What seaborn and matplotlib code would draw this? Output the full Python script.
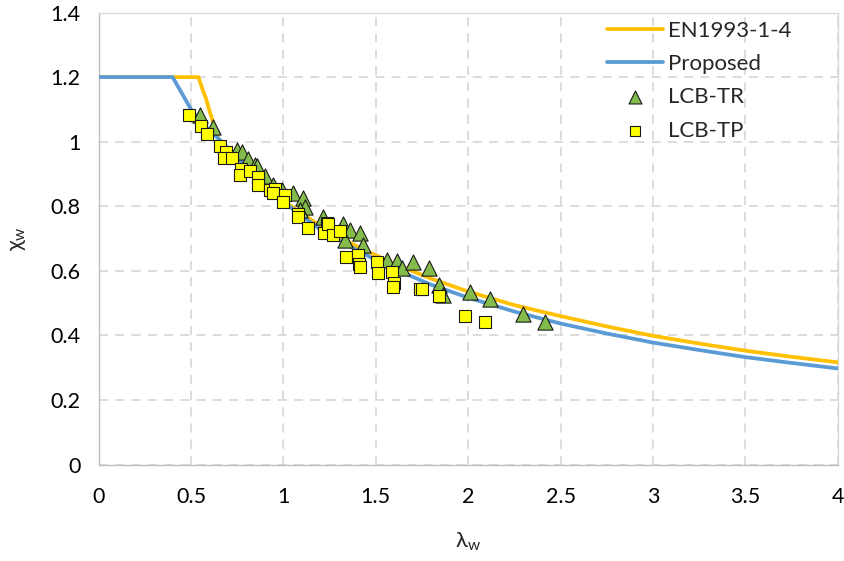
import matplotlib
matplotlib.use("Agg")
import matplotlib.pyplot as plt
import seaborn as sns
import pandas as pd

# EN1993-1-4 curve
en_lam = [0.0, 0.54, 0.56, 0.58, 0.60, 0.625, 0.65, 0.70, 0.80, 0.90, 1.0, 1.2, 1.4, 1.6, 1.8,
          2.0, 2.25, 2.5, 2.75, 3.0, 3.25, 3.5, 3.75, 4.0]
en_chi = [1.2, 1.2, 1.165, 1.135, 1.095, 1.05, 1.005, 0.969, 0.912, 0.862, 0.817, 0.739, 0.675,
          0.622, 0.576, 0.536, 0.494, 0.460, 0.428, 0.399, 0.375, 0.353, 0.334, 0.317]

# Proposed curve
pr_lam = [0.0, 0.40, 0.45, 0.50, 0.55, 0.60, 0.666, 0.80, 1.0, 1.2, 1.4, 1.6, 1.8, 2.0,
          2.25, 2.5, 2.75, 3.0, 3.25, 3.5, 3.75, 4.0]
pr_chi = [1.2, 1.2, 1.15, 1.10, 1.065, 1.035, 1.0, 0.922, 0.813, 0.728, 0.663, 0.606, 0.557,
          0.517, 0.474, 0.437, 0.406, 0.378, 0.355, 0.333, 0.315, 0.298]

# LCB-TR test points
tr_lam = [0.548, 0.620, 0.747, 0.774, 0.810, 0.846, 0.855, 0.900, 0.945, 0.990, 1.053, 1.107,
          1.116, 1.090, 1.215, 1.324, 1.360, 1.414, 1.333, 1.432, 1.558, 1.613, 1.640, 1.699,
          1.789, 1.843, 1.865, 2.009, 2.117, 2.294, 2.417]
tr_chi = [1.083, 1.046, 0.974, 0.969, 0.945, 0.928, 0.925, 0.895, 0.866, 0.850, 0.840, 0.825,
          0.799, 0.790, 0.768, 0.744, 0.727, 0.716, 0.696, 0.680, 0.634, 0.632, 0.610, 0.628,
          0.608, 0.556, 0.525, 0.536, 0.512, 0.467, 0.443]

# LCB-TP test points
tp_lam = [0.489, 0.554, 0.588, 0.656, 0.687, 0.680, 0.723, 0.768, 0.765, 0.819, 0.864, 0.864,
          0.927, 0.954, 0.945, 1.008, 0.999, 1.080, 1.080, 1.134, 1.237, 1.219, 1.242, 1.270,
          1.306, 1.338, 1.405, 1.410, 1.412, 1.504, 1.513, 1.586, 1.598, 1.594, 1.739, 1.748,
          1.843, 1.982, 2.090]
tp_chi = [1.082, 1.049, 1.023, 0.987, 0.969, 0.949, 0.949, 0.915, 0.897, 0.910, 0.892, 0.866,
          0.850, 0.853, 0.840, 0.835, 0.814, 0.775, 0.768, 0.732, 0.747, 0.716, 0.745, 0.711,
          0.724, 0.644, 0.649, 0.621, 0.612, 0.628, 0.593, 0.598, 0.563, 0.549, 0.543, 0.543,
          0.522, 0.460, 0.443]

x_ticks = [0, 0.5, 1, 1.5, 2, 2.5, 3, 3.5, 4]
x_tick_labels = ["0", "0.5", "1", "1.5", "2", "2.5", "3", "3.5", "4"]
y_ticks = [0, 0.2, 0.4, 0.6, 0.8, 1.0, 1.2, 1.4]
y_tick_labels = ["0", "0.2", "0.4", "0.6", "0.8", "1", "1.2", "1.4"]

sns.set_theme(style="white")
plt.rcParams["font.family"] = ["Lato", "DejaVu Sans"]

fig = plt.figure(figsize=(8.45, 5.61), dpi=100)
ax = fig.add_axes([0.1168, 0.1717, 0.8746, 0.806])

grid_c = "#D9D9D9"
ax.set_axisbelow(True)
ax.grid(True, which="major", color=grid_c, linestyle=(0, (5, 4)), linewidth=1.3)

en_df = pd.DataFrame({"lam": en_lam, "chi": en_chi})
pr_df = pd.DataFrame({"lam": pr_lam, "chi": pr_chi})
tr_df = pd.DataFrame({"lam": tr_lam, "chi": tr_chi})
tp_df = pd.DataFrame({"lam": tp_lam, "chi": tp_chi})

sns.lineplot(data=en_df, x="lam", y="chi", ax=ax, color="#FFC000", linewidth=2.7,
             sort=False, estimator=None, label="EN1993-1-4", zorder=3)
sns.lineplot(data=pr_df, x="lam", y="chi", ax=ax, color="#5B9BD5", linewidth=2.7,
             sort=False, estimator=None, label="Proposed", zorder=3)
sns.scatterplot(data=tr_df, x="lam", y="chi", ax=ax, marker="^", s=120,
                color="#84BC4B", edgecolor="#1a1a1a", linewidth=0.8, label="LCB-TR", zorder=4)
sns.scatterplot(data=tp_df, x="lam", y="chi", ax=ax, marker="s", s=85,
                color="#FFFF00", edgecolor="#1a1a1a", linewidth=0.8, label="LCB-TP", zorder=5)

ax.set_xlim(0, 4)
ax.set_ylim(0, 1.4)
ax.set_xticks(x_ticks)
ax.set_xticklabels(x_tick_labels)
ax.set_yticks(y_ticks)
ax.set_yticklabels(y_tick_labels)
ax.tick_params(axis="both", labelsize=15.5, colors="#000000", length=0)
ax.tick_params(axis="x", pad=16)
ax.tick_params(axis="y", pad=13)

for side in ["top", "right"]:
    ax.spines[side].set_color(grid_c)
    ax.spines[side].set_linewidth(1.0)
for side in ["left", "bottom"]:
    ax.spines[side].set_color("#BFBFBF")
    ax.spines[side].set_linewidth(1.0)

ax.set_xlabel("λ$_\\mathregular{w}$", fontsize=16, labelpad=17)
ax.set_ylabel("χ$_\\mathregular{w}$", fontsize=16, labelpad=16)

leg = ax.legend(loc="upper left", bbox_to_anchor=(0.688, 0.982), frameon=False, fontsize=16,
                labelspacing=0.6, handlelength=2.5, handletextpad=0.25, markerscale=0.85,
                borderpad=0, borderaxespad=0)

fig.savefig("out.png", dpi=100)
